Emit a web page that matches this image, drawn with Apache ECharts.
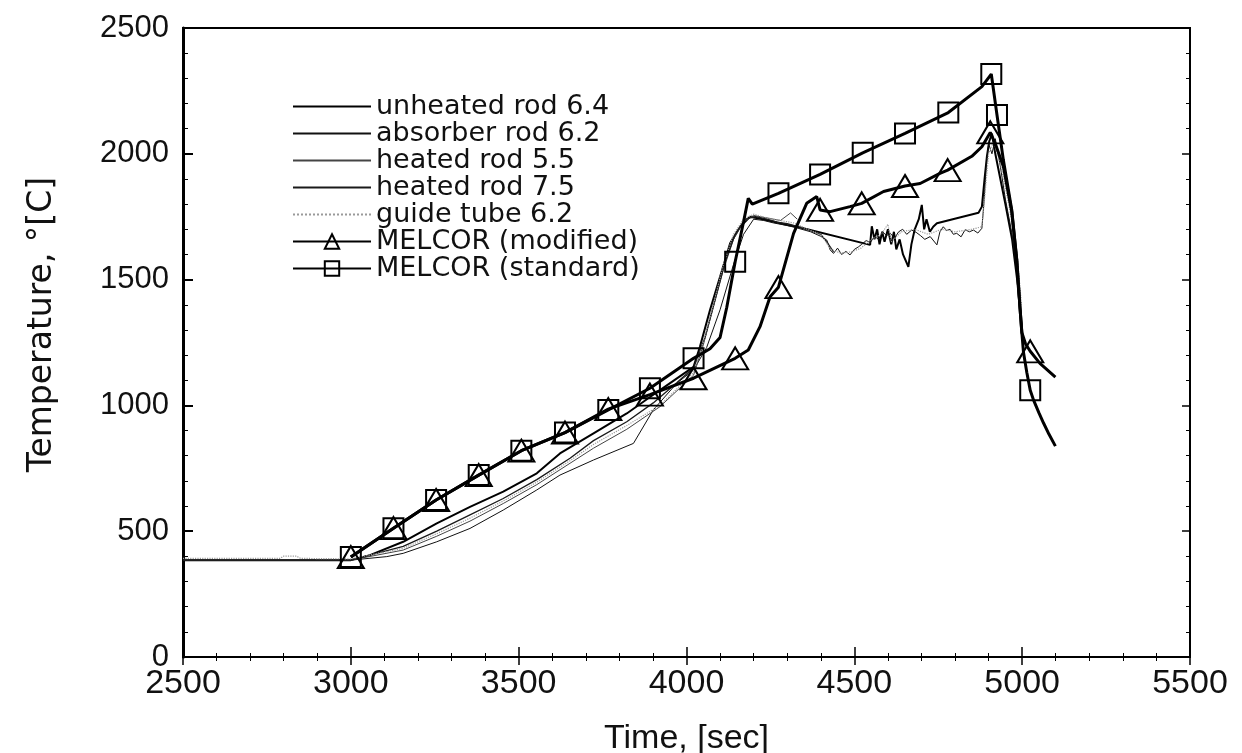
<!DOCTYPE html>
<html>
<head>
<meta charset="utf-8">
<script src="https://cdn.jsdelivr.net/npm/echarts@6/dist/echarts.min.js"></script>
<style>
html,body{margin:0;padding:0;background:#fff;}
#chart{width:1242px;height:753px;}
</style>
</head>
<body>
<div id="chart"></div>
<script>
// ---------- axes ----------
const xRange = [2500, 5500], xStep = 500;
const yRange = [0, 2500], yStep = 500;
const xTitle = 'Time, [sec]';
const yTitle = 'Temperature, °[C]';

// ---------- legend names ----------
const names = ['unheated rod 6.4', 'absorber rod 6.2', 'heated rod 5.5', 'heated rod 7.5',
  'guide tube 6.2', 'MELCOR (modified)', 'MELCOR (standard)'];

// ---------- experimental curves [time, temperature] ----------
const unheated64 = [[2500,385],[3000,385],[3057,405],[3156,458],[3256,531],[3355,597],[3454,657],[3554,730],
  [3623,809],[3723,889],[3822,968],[3921,1061],[4021,1153],[4040,1233],[4070,1379],[4100,1511],[4130,1644],
  [4160,1710],[4189,1750],[4220,1742],[4260,1730],[4300,1717],[4330,1710],[4547,1638],[4552,1712],[4560,1660],
  [4568,1700],[4575,1640],[4583,1690],[4590,1650],[4600,1700],[4610,1640],[4618,1690],[4625,1620],[4635,1660],
  [4645,1600],[4661,1551],[4670,1640],[4680,1700],[4692,1740],[4701,1797],[4708,1700],[4715,1740],[4725,1690],
  [4735,1710],[4746,1724],[4870,1766],[4880,1790],[4888,1900],[4895,1990],[4902,2050],[4910,2080],[4920,2000],
  [4935,1900],[4950,1800],[4970,1660],[4985,1500],[4998,1320]];

const absorber62 = [[2500,385],[3000,385],[3107,399],[3156,412],[3256,458],[3355,511],[3454,584],[3554,664],
  [3623,723],[3723,783],[3842,849],[3901,982],[3971,1088],[4021,1141],[4060,1230],[4100,1380],[4140,1560],
  [4170,1680],[4200,1740],[4230,1735],[4260,1725],[4300,1715],[4330,1705],[4370,1690],[4400,1672],[4418,1657],
  [4428,1618],[4438,1604],[4450,1625],[4462,1600],[4475,1612],[4487,1598],[4500,1620],[4512,1630],[4522,1640],
  [4535,1655],[4548,1648],[4560,1672],[4572,1660],[4584,1690],[4596,1675],[4607,1684],[4620,1665],[4632,1690],
  [4644,1700],[4656,1680],[4671,1697],[4684,1688],[4697,1675],[4710,1660],[4726,1671],[4746,1638],[4755,1690],
  [4765,1710],[4775,1695],[4785,1700],[4795,1680],[4805,1684],[4818,1670],[4830,1698],[4843,1690],[4855,1697],
  [4868,1685],[4880,1704],[4886,1803],[4893,1950],[4900,2040],[4910,2000],[4920,2060],[4935,1950],[4950,1820],
  [4970,1680],[4985,1520],[4998,1350]];

const heated55 = [[2500,385],[3000,385],[3156,425],[3256,480],[3355,540],[3454,610],[3554,685],[3653,770],
  [3723,830],[3822,905],[3921,995],[4021,1120],[4050,1240],[4080,1390],[4110,1540],[4140,1660],[4170,1730],
  [4200,1755],[4240,1745],[4280,1735],[4310,1765],[4330,1740]];

const heated75 = [[2500,385],[3000,385],[3156,440],[3256,500],[3355,565],[3454,630],[3554,705],[3653,790],
  [3723,860],[3822,935],[3901,1010],[3971,1090],[4021,1150],[4055,1270],[4085,1420],[4115,1570],[4145,1680],
  [4175,1740],[4205,1750],[4240,1740],[4270,1728],[4300,1722],[4330,1712],[4360,1700],[4400,1680],[4418,1650],
  [4438,1610]];

const guideTube62 = [[2500,392],[2790,392],[2800,401],[2838,401],[2850,392],[3000,390],[3156,432],[3256,490],
  [3355,552],[3454,620],[3554,695],[3653,780],[3723,845],[3822,920],[3921,1000],[4021,1130],[4050,1250],
  [4080,1400],[4110,1560],[4140,1680],[4170,1740],[4200,1760],[4240,1745],[4280,1735],[4320,1725],[4360,1700],
  [4400,1680],[4430,1620],[4460,1605],[4490,1610],[4520,1625],[4550,1660],[4580,1680],[4600,1720],[4610,1650],
  [4640,1690],[4680,1700],[4720,1680],[4760,1700],[4800,1690],[4850,1700],[4880,1710],[4890,1850],[4900,2000],
  [4915,2050],[4935,1960],[4960,1800],[4985,1600],[4998,1400]];

// ---------- MELCOR curves [time, temperature] ----------
const melcorModified = [[3000,397],[3127,512],[3254,624],[3381,723],[3508,820],[3638,892],[3767,985],
  [3891,1043],[4021,1108],[4145,1187],[4184,1220],[4219,1313],[4249,1432],[4274,1470],[4319,1684],[4358,1803],
  [4388,1830],[4398,1777],[4428,1770],[4487,1790],[4522,1803],[4587,1850],[4651,1872],[4696,1882],[4755,1922],
  [4778,1935],[4850,1990],[4880,2028],[4905,2085],[4920,2040],[4944,1950],[4969,1770],[4984,1575],[4994,1380],
  [4999,1290],[5010,1245],[5024,1215],[5053,1167],[5099,1112]];
const modifiedMarks = [3000,3127,3254,3381,3508,3638,3767,3891,4021,4145,4274,4398,4522,4651,4778,4905,5024];

const melcorStandard = [[3000,397],[3127,512],[3254,624],[3381,723],[3508,820],[3638,892],[3767,982],
  [3891,1068],[4021,1187],[4070,1225],[4100,1270],[4120,1390],[4145,1571],[4170,1730],[4184,1823],[4196,1800],
  [4274,1843],[4398,1918],[4525,2004],[4651,2081],[4780,2164],[4880,2267],[4908,2317],[4925,2154],[4944,1975],
  [4969,1777],[4984,1578],[4994,1379],[4999,1290],[5004,1210],[5014,1130],[5024,1060],[5034,1021],[5050,970],
  [5064,929],[5080,885],[5099,838]];
const standardMarks = [3000,3127,3254,3381,3508,3638,3767,3891,4021,4145,4274,4398,4525,4651,4780,4908,4925,5024];

// ---------- build ----------
function marked(pairs, marks) {
  return pairs.map(p => marks.indexOf(p[0]) >= 0 ? {value: p} : {value: p, symbol: 'none'});
}
function expLine(name, data, width, color, type) {
  return {name, type: 'line', data, showSymbol: false, symbol: 'none', z: 2,
    lineStyle: {color, width, type: type || 'solid'},
    itemStyle: {color: 'rgba(0,0,0,0)', borderWidth: 0}};
}
const hollow = {color: 'rgba(255,255,255,0)', borderColor: '#000', borderWidth: 2};

const fontY = 'Liberation Sans, Arial, sans-serif';
const fontX = 'Liberation Sans Narrow, Liberation Sans, Arial, sans-serif';
const fontT = 'DejaVu Sans, Liberation Sans, sans-serif';
const plain = v => String(v);

const chart = echarts.init(document.getElementById('chart'), null, {renderer: 'canvas'});
chart.setOption({
  animation: false,
  backgroundColor: '#fff',
  grid: {left: 183, right: 52, top: 28, bottom: 96, show: true, borderColor: '#000', borderWidth: 2,
    outerBoundsMode: 'none'},
  legend: {
    orient: 'vertical', left: 287, top: 88, itemWidth: 78, itemHeight: 18, itemGap: 0,
    data: names, selectedMode: false,
    textStyle: {fontFamily: fontT, fontSize: 27, color: '#111', lineHeight: 25.5}
  },
  xAxis: [{
    type: 'value', min: xRange[0], max: xRange[1], interval: xStep,
    name: xTitle, nameLocation: 'middle', nameGap: 65,
    nameTextStyle: {fontFamily: fontX, fontSize: 34, color: '#111'},
    axisLine: {show: true, lineStyle: {color: '#000', width: 2}},
    axisTick: {show: true, inside: true, length: 10, lineStyle: {color: '#000', width: 1.5}},
    minorTick: {show: true, splitNumber: 5, length: 4, lineStyle: {color: '#000', width: 1}},
    axisLabel: {fontFamily: fontX, fontSize: 34, color: '#111', margin: 10, formatter: plain},
    splitLine: {show: false}
  }, {
    type: 'value', position: 'top', min: xRange[0], max: xRange[1], interval: xStep,
    axisLine: {show: true, lineStyle: {color: '#000', width: 2}},
    axisTick: {show: true, inside: true, length: 8, lineStyle: {color: '#000', width: 1.5}},
    minorTick: {show: true, splitNumber: 5, length: 4, lineStyle: {color: '#000', width: 1}},
    axisLabel: {show: false}, splitLine: {show: false}
  }],
  yAxis: [{
    type: 'value', min: yRange[0], max: yRange[1], interval: yStep,
    name: yTitle, nameLocation: 'middle', nameGap: 124,
    nameTextStyle: {fontFamily: fontT, fontSize: 33, color: '#111', padding: [0, 0, 0, 36]},
    axisLine: {show: true, lineStyle: {color: '#000', width: 3}},
    axisTick: {show: true, inside: true, length: 10, lineStyle: {color: '#000', width: 2}},
    minorTick: {show: true, splitNumber: 5, length: 5, lineStyle: {color: '#000', width: 1}},
    axisLabel: {fontFamily: fontY, fontSize: 31, color: '#111', margin: 14, formatter: plain},
    splitLine: {show: false}
  }, {
    type: 'value', position: 'right', min: yRange[0], max: yRange[1], interval: yStep,
    axisLine: {show: true, lineStyle: {color: '#000', width: 2}},
    axisTick: {show: true, inside: true, length: 8, lineStyle: {color: '#000', width: 1.5}},
    minorTick: {show: true, splitNumber: 5, length: 4, lineStyle: {color: '#000', width: 1}},
    axisLabel: {show: false}, splitLine: {show: false}
  }],
  series: [
    expLine(names[0], unheated64, 2, '#000'),
    expLine(names[1], absorber62, 1, '#111'),
    expLine(names[2], heated55, 1, '#444'),
    expLine(names[3], heated75, 1.3, '#1a1a1a'),
    expLine(names[4], guideTube62, 1.2, '#9a9a9a', 'dotted'),
    {
      name: names[5], type: 'line', data: marked(melcorModified, modifiedMarks), z: 5,
      symbol: 'triangle', symbolSize: [26, 22], showSymbol: true,
      lineStyle: {color: '#000', width: 3}, itemStyle: hollow
    },
    {
      name: names[6], type: 'line', data: marked(melcorStandard, standardMarks), z: 5,
      symbol: 'rect', symbolSize: 20, showSymbol: true,
      lineStyle: {color: '#000', width: 3}, itemStyle: hollow
    }
  ]
});
</script>
</body>
</html>
